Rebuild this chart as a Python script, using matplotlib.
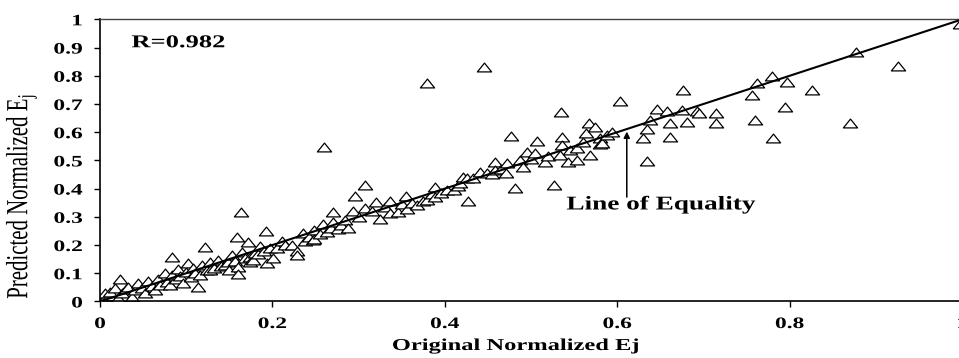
import matplotlib.pyplot as plt
from matplotlib.path import Path
from matplotlib.patheffects import AbstractPathEffect
from matplotlib.transforms import Affine2D
from matplotlib.ticker import FuncFormatter

# original vs predicted normalized Ej
orig_ej = [
    0.000, 0.004, 0.006, 0.010, 0.006, 0.012, 0.017, 0.021, 0.023, 0.025,
    0.030, 0.032, 0.037, 0.040, 0.044, 0.049, 0.052, 0.056, 0.060, 0.064,
    0.067, 0.070, 0.075, 0.078, 0.081, 0.083, 0.084, 0.088, 0.090, 0.093,
    0.096, 0.100, 0.102, 0.105, 0.108, 0.110, 0.114, 0.116, 0.118, 0.122,
    0.124, 0.128, 0.128, 0.132, 0.137, 0.140, 0.145, 0.148, 0.150, 0.153,
    0.156, 0.159, 0.160, 0.160, 0.164, 0.165, 0.168, 0.172, 0.174, 0.174,
    0.177, 0.180, 0.183, 0.186, 0.190, 0.193, 0.194, 0.197, 0.201, 0.205,
    0.211, 0.215, 0.223, 0.228, 0.229, 0.236, 0.238, 0.242, 0.247, 0.248,
    0.248, 0.255, 0.259, 0.260, 0.263, 0.268, 0.270, 0.270, 0.276, 0.280,
    0.284, 0.288, 0.294, 0.296, 0.300, 0.307, 0.307, 0.315, 0.320, 0.325,
    0.330, 0.336, 0.336, 0.346, 0.350, 0.355, 0.356, 0.362, 0.368, 0.375,
    0.379, 0.379, 0.385, 0.389, 0.389, 0.395, 0.402, 0.410, 0.415, 0.418,
    0.421, 0.426, 0.427, 0.433, 0.441, 0.445, 0.449, 0.455, 0.458, 0.458,
    0.465, 0.471, 0.472, 0.477, 0.481, 0.487, 0.491, 0.495, 0.500, 0.505,
    0.507, 0.516, 0.520, 0.526, 0.534, 0.535, 0.536, 0.536, 0.543, 0.545,
    0.553, 0.553, 0.560, 0.564, 0.567, 0.568, 0.574, 0.580, 0.580, 0.582,
    0.588, 0.594, 0.603, 0.630, 0.634, 0.634, 0.638, 0.646, 0.658, 0.661,
    0.661, 0.675, 0.676, 0.681, 0.692, 0.695, 0.715, 0.715, 0.756, 0.760,
    0.762, 0.780, 0.781, 0.795, 0.797, 0.826, 0.870, 0.877, 0.925, 0.998,
]
pred_ej = [
    0.000, 0.008, 0.013, 0.020, 0.030, 0.035, 0.048, 0.012, 0.080, 0.030,
    0.045, 0.051, 0.016, 0.040, 0.066, 0.048, 0.030, 0.073, 0.055, 0.041,
    0.080, 0.060, 0.101, 0.070, 0.059, 0.157, 0.094, 0.080, 0.115, 0.090,
    0.066, 0.105, 0.136, 0.085, 0.119, 0.100, 0.051, 0.094, 0.129, 0.193,
    0.110, 0.140, 0.111, 0.120, 0.147, 0.125, 0.129, 0.140, 0.110, 0.165,
    0.145, 0.229, 0.122, 0.098, 0.316, 0.176, 0.155, 0.211, 0.158, 0.140,
    0.147, 0.170, 0.168, 0.197, 0.180, 0.250, 0.136, 0.190, 0.154, 0.190,
    0.214, 0.200, 0.200, 0.179, 0.165, 0.243, 0.214, 0.230, 0.218, 0.254,
    0.222, 0.240, 0.275, 0.548, 0.246, 0.262, 0.282, 0.317, 0.257, 0.270,
    0.289, 0.261, 0.321, 0.374, 0.300, 0.413, 0.332, 0.320, 0.353, 0.293,
    0.335, 0.356, 0.313, 0.317, 0.345, 0.374, 0.328, 0.350, 0.342, 0.356,
    0.775, 0.359, 0.380, 0.406, 0.371, 0.385, 0.395, 0.395, 0.410, 0.420,
    0.441, 0.437, 0.356, 0.437, 0.459, 0.831, 0.455, 0.450, 0.494, 0.466,
    0.470, 0.455, 0.490, 0.586, 0.402, 0.501, 0.477, 0.530, 0.505, 0.526,
    0.568, 0.494, 0.515, 0.412, 0.519, 0.672, 0.583, 0.554, 0.494, 0.537,
    0.544, 0.501, 0.566, 0.597, 0.634, 0.519, 0.619, 0.580, 0.558, 0.562,
    0.590, 0.601, 0.709, 0.580, 0.611, 0.497, 0.643, 0.682, 0.676, 0.633,
    0.584, 0.679, 0.750, 0.636, 0.675, 0.668, 0.668, 0.633, 0.732, 0.643,
    0.774, 0.800, 0.580, 0.690, 0.779, 0.750, 0.633, 0.885, 0.833, 0.985,
]

x_ticks = [0, 0.2, 0.4, 0.6, 0.8, 1]
y_ticks = [0, 0.1, 0.2, 0.3, 0.4, 0.5, 0.6, 0.7, 0.8, 0.9, 1]
equality = [0, 1]

# the source figure is stretched sideways, so its glyphs are wide
WIDE = 1.47


class Stretch(AbstractPathEffect):
    """Scale the glyph outlines of a text around one of its edges."""

    def __init__(self, sx=1.0, sy=1.0, anchor='center'):
        super().__init__()
        self.sx, self.sy, self.anchor = sx, sy, anchor

    def draw_path(self, renderer, gc, tpath, affine, rgbFace=None):
        ext = tpath.get_extents()
        if self.anchor == 'right':
            ox = ext.x1
        elif self.anchor == 'left':
            ox = ext.x0
        else:
            ox = (ext.x0 + ext.x1) / 2
        oy = (ext.y0 + ext.y1) / 2
        t = Affine2D().translate(-ox, -oy).scale(self.sx, self.sy).translate(ox, oy)
        renderer.draw_path(gc, tpath, t + affine, rgbFace)


plt.rcParams['font.family'] = ['Liberation Serif', 'DejaVu Serif']

fig = plt.figure(figsize=(9.59, 3.58), dpi=100)
ax = fig.add_axes([0.1043, 0.158, 0.899, 0.788])

# flat triangle like the stretched Excel marker
tri = Path([(-1, -0.62), (1, -0.62), (0, 0.62), (-1, -0.62)],
           [Path.MOVETO, Path.LINETO, Path.LINETO, Path.CLOSEPOLY])
ax.scatter(orig_ej, pred_ej, marker=tri, s=105, facecolors='white',
           edgecolors='black', linewidths=0.9, zorder=2)
ax.plot(equality, equality, color='black', linewidth=1.5, zorder=3)

ax.set_xlim(0, 1)
ax.set_ylim(0, 1)
ax.set_xticks(x_ticks)
ax.set_yticks(y_ticks)
fmt = FuncFormatter(lambda v, p: '0' if v == 0 else ('1' if v == 1 else f'{v:g}'))
ax.xaxis.set_major_formatter(fmt)
ax.yaxis.set_major_formatter(fmt)
for lab in ax.get_xticklabels():
    lab.set_fontweight('bold')
    lab.set_fontsize(11.5)
    lab.set_path_effects([Stretch(sx=WIDE)])
for lab in ax.get_yticklabels():
    lab.set_fontweight('bold')
    lab.set_fontsize(11.5)
    lab.set_path_effects([Stretch(sx=WIDE, anchor='right')])
ax.tick_params(axis='both', direction='out', length=4.5, width=1, colors='black')
ax.tick_params(axis='x', pad=6)
ax.tick_params(axis='y', pad=8)

ax.spines['right'].set_visible(False)
ax.spines['top'].set_color('#444444')
ax.spines['top'].set_linewidth(1)
ax.spines['left'].set_linewidth(1.2)
ax.spines['bottom'].set_linewidth(1.2)

fig.text(515 / 959, 1 - 346 / 358, 'Original Normalized Ej', fontsize=12,
         fontweight='bold', ha='center', va='center',
         path_effects=[Stretch(sx=WIDE)])
fig.text(22 / 959, 1 - 196 / 358, 'Predicted Normalized E$_\\mathregular{j}$',
         fontsize=15, rotation=90, ha='center', va='center',
         path_effects=[Stretch(sy=WIDE)])

ax.text(0.0905, 0.917, 'R=0.982', fontsize=13, fontweight='bold',
        ha='center', va='center', path_effects=[Stretch(sx=WIDE)])
ax.annotate('', xy=(0.611, 0.612), xytext=(0.611, 0.36),
            arrowprops=dict(arrowstyle='-|>', color='black', lw=1.1, mutation_scale=9))
ax.text(0.651, 0.342, 'Line of Equality', fontsize=14, fontweight='bold',
        ha='center', va='center', path_effects=[Stretch(sx=1.4)])

fig.savefig('out.png', dpi=100)
